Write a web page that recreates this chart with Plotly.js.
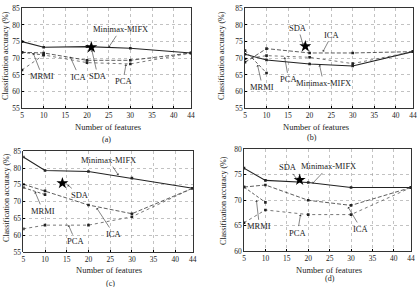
<!DOCTYPE html>
<html><head><meta charset="utf-8">
<script src="https://cdn.plot.ly/plotly-3.0.1.min.js"></script>
<style>html,body{margin:0;padding:0;background:#fff}#chart{width:418px;height:287px}</style>
</head><body><div id="chart"></div>
<script>
// ---- data ----
const features = [5, 10, 20, 30, 44];
const mrmiFeatures = [5, 10];
const xTickVals = [5, 10, 15, 20, 25, 30, 35, 40, 44];

// panel (a)
const mifxA = [75.0, 73.3, 73.5, 73.0, 71.6];
const icaA  = [71.8, 71.6, 69.4, 69.4, 71.6];
const pcaA  = [66.5, 71.0, 68.7, 68.3, 71.6];
const mrmiA = [71.8, 71.0];
const sdaA  = [21, 73.3];
// panel (b)
const mifxB = [71.2, 69.5, 68.3, 67.7, 72.0];
const icaB  = [68.8, 72.9, 71.6, 71.6, 72.0];
const pcaB  = [69.8, 70.8, 70.3, 68.4, 72.0];
const mrmiB = [72.3, 65.6];
const sdaB  = [19, 73.6];
// panel (c)
const mifxC = [83.3, 79.3, 79.0, 77.0, 74.0];
const icaC  = [75.2, 73.2, 69.0, 66.4, 74.0];
const pcaC  = [61.9, 63.0, 63.0, 65.5, 74.0];
const mrmiC = [74.2, 72.1];
const sdaC  = [14, 75.5];
// panel (d)
const mifxD = [76.3, 73.9, 73.5, 72.5, 72.5];
const icaD  = [72.6, 73.0, 70.0, 69.0, 72.5];
const pcaD  = [65.6, 68.1, 67.2, 67.2, 72.5];
const mrmiD = [72.6, 69.6];
const sdaD  = [18, 74.0];

const panelLabels = ['(a)', '(b)', '(c)', '(d)'];
const xTitle = 'Number of features';
const yTitle = 'Classification accuracy (%)';

// ---- styling / layout config ----
const FONT = 'Liberation Serif, Times New Roman, serif';
const INK = '#222';
const panels = [
  {id: '', mifx: mifxA, ica: icaA, pca: pcaA, mrmi: mrmiA, sda: sdaA, yr: [55, 85],
   xd: [22/418, 191/418], yd: [1-108.3/287, 1-8.3/287],
   xt: [108, 126.7], lab: [106, 139.3], yt: [6, 56],
   ann: [['Minimax-MIFX', 25, 73.3, 12, -18], ['MRMI', 7.6, 71.5, 9, 23], ['ICA', 16.1, 70.5, 9, 20],
         ['SDA', 21.1, 72.5, 6, 26], ['PCA', 29, 68.2, -3, 17]]},
  {id: '2', mifx: mifxB, ica: icaB, pca: pcaB, mrmi: mrmiB, sda: sdaB, yr: [55, 85],
   xd: [245/418, 413/418], yd: [1-108.3/287, 1-8.3/287],
   xt: [316, 126.7], lab: [312, 137], yt: [222, 56],
   ann: [['SDA', 18.5, 74.0, -5, -17], ['ICA', 23.1, 72.0, 9, -17], ['MRMI', 7.9, 68.0, 5, 22],
         ['PCA', 14.2, 70.3, 4, 22], ['Minimax-MIFX', 22.3, 68.0, 4, 18]]},
  {id: '3', mifx: mifxC, ica: icaC, pca: pcaC, mrmi: mrmiC, sda: sdaC, yr: [55, 85],
   xd: [23.3/418, 192.7/418], yd: [1-252/287, 1-151.3/287],
   xt: [109, 270], lab: [110, 283], yt: [6, 198],
   ann: [['Minimax-MIFX', 26.9, 77.9, -10, -15], ['SDA', 15.2, 75.0, 12, 10], ['MRMI', 7.7, 72.9, 8, 19],
         ['ICA', 21.9, 68.1, 17, 26], ['PCA', 15.4, 63.0, 7, 16]]},
  {id: '4', mifx: mifxD, ica: icaD, pca: pcaD, mrmi: mrmiD, sda: sdaD, yr: [60, 80],
   xd: [244/418, 411/418], yd: [1-251.3/287, 1-149.3/287],
   xt: [329, 270], lab: [330, 278], yt: [223, 200],
   ann: [['SDA', 17.4, 74.1, -9, -12], ['Minimax-MIFX', 21, 73.3, 16, -17], ['MRMI', 7.9, 70.0, 3, 26],
         ['PCA', 18.2, 67.2, -3, 18], ['ICA', 29.3, 68.7, 13, 22]]}
];

const traces = [];
const layout = {
  width: 418, height: 287, margin: {l: 0, r: 0, t: 0, b: 0},
  paper_bgcolor: '#fff', plot_bgcolor: '#fff', showlegend: false,
  font: {family: FONT, color: INK, size: 8},
  annotations: []
};

panels.forEach(p => {
  const xa = 'x' + p.id, ya = 'y' + p.id;
  const mk = {size: 2.6, color: INK, symbol: 'square'};
  traces.push({x: features, y: p.mifx, xaxis: xa, yaxis: ya, mode: 'lines+markers',
    line: {color: INK, width: 1.1}, marker: mk});
  traces.push({x: features, y: p.ica, xaxis: xa, yaxis: ya, mode: 'lines+markers',
    line: {color: '#333', width: 0.8, dash: '4px,2px'}, marker: mk});
  traces.push({x: features, y: p.pca, xaxis: xa, yaxis: ya, mode: 'lines+markers',
    line: {color: '#555', width: 0.8, dash: 'dot'}, marker: mk});
  traces.push({x: mrmiFeatures, y: p.mrmi, xaxis: xa, yaxis: ya, mode: 'lines+markers',
    line: {color: '#333', width: 0.8, dash: '3px,2px'}, marker: mk});
  traces.push({x: [p.sda[0]], y: [p.sda[1]], xaxis: xa, yaxis: ya, mode: 'markers',
    marker: {symbol: 'star', size: 9, color: '#000'}});

  const axCommon = {showline: true, mirror: true, linecolor: '#000', linewidth: 0.8,
    showgrid: true, gridcolor: '#9a9a9a', gridwidth: 0.6, griddash: 'dot',
    zeroline: false, ticks: 'inside', ticklen: 2, tickcolor: '#000',
    tickfont: {family: FONT, size: 7.5, color: INK}};
  layout['xaxis' + p.id] = Object.assign({}, axCommon, {domain: p.xd, anchor: ya,
    range: [5, 44], tickvals: xTickVals, ticktext: xTickVals.map(String)});
  layout['yaxis' + p.id] = Object.assign({}, axCommon, {domain: p.yd, anchor: xa,
    range: p.yr, dtick: 5, tick0: 0});

  p.ann.forEach(a => {
    layout.annotations.push({xref: xa, yref: ya, x: a[1], y: a[2], ax: a[3], ay: a[4],
      text: a[0], showarrow: true, arrowhead: 1, arrowsize: 0.8, arrowwidth: 0.6,
      arrowcolor: '#333', font: {family: FONT, size: 8.5, color: INK}});
  });
  layout.annotations.push({xref: 'paper', yref: 'paper', x: p.xt[0]/418, y: 1 - p.xt[1]/287,
    xanchor: 'center', yanchor: 'middle', showarrow: false, text: xTitle,
    font: {family: FONT, size: 8.5, color: INK}});
  layout.annotations.push({xref: 'paper', yref: 'paper', x: p.lab[0]/418, y: 1 - p.lab[1]/287,
    xanchor: 'center', yanchor: 'middle', showarrow: false, text: panelLabels[panels.indexOf(p)],
    font: {family: FONT, size: 8, color: INK}});
  layout.annotations.push({xref: 'paper', yref: 'paper', x: p.yt[0]/418, y: 1 - p.yt[1]/287,
    xanchor: 'center', yanchor: 'middle', showarrow: false, text: yTitle, textangle: -90,
    font: {family: FONT, size: 8, color: INK}});
});

Plotly.newPlot('chart', traces, layout, {displayModeBar: false, staticPlot: true});
</script>
</body></html>
